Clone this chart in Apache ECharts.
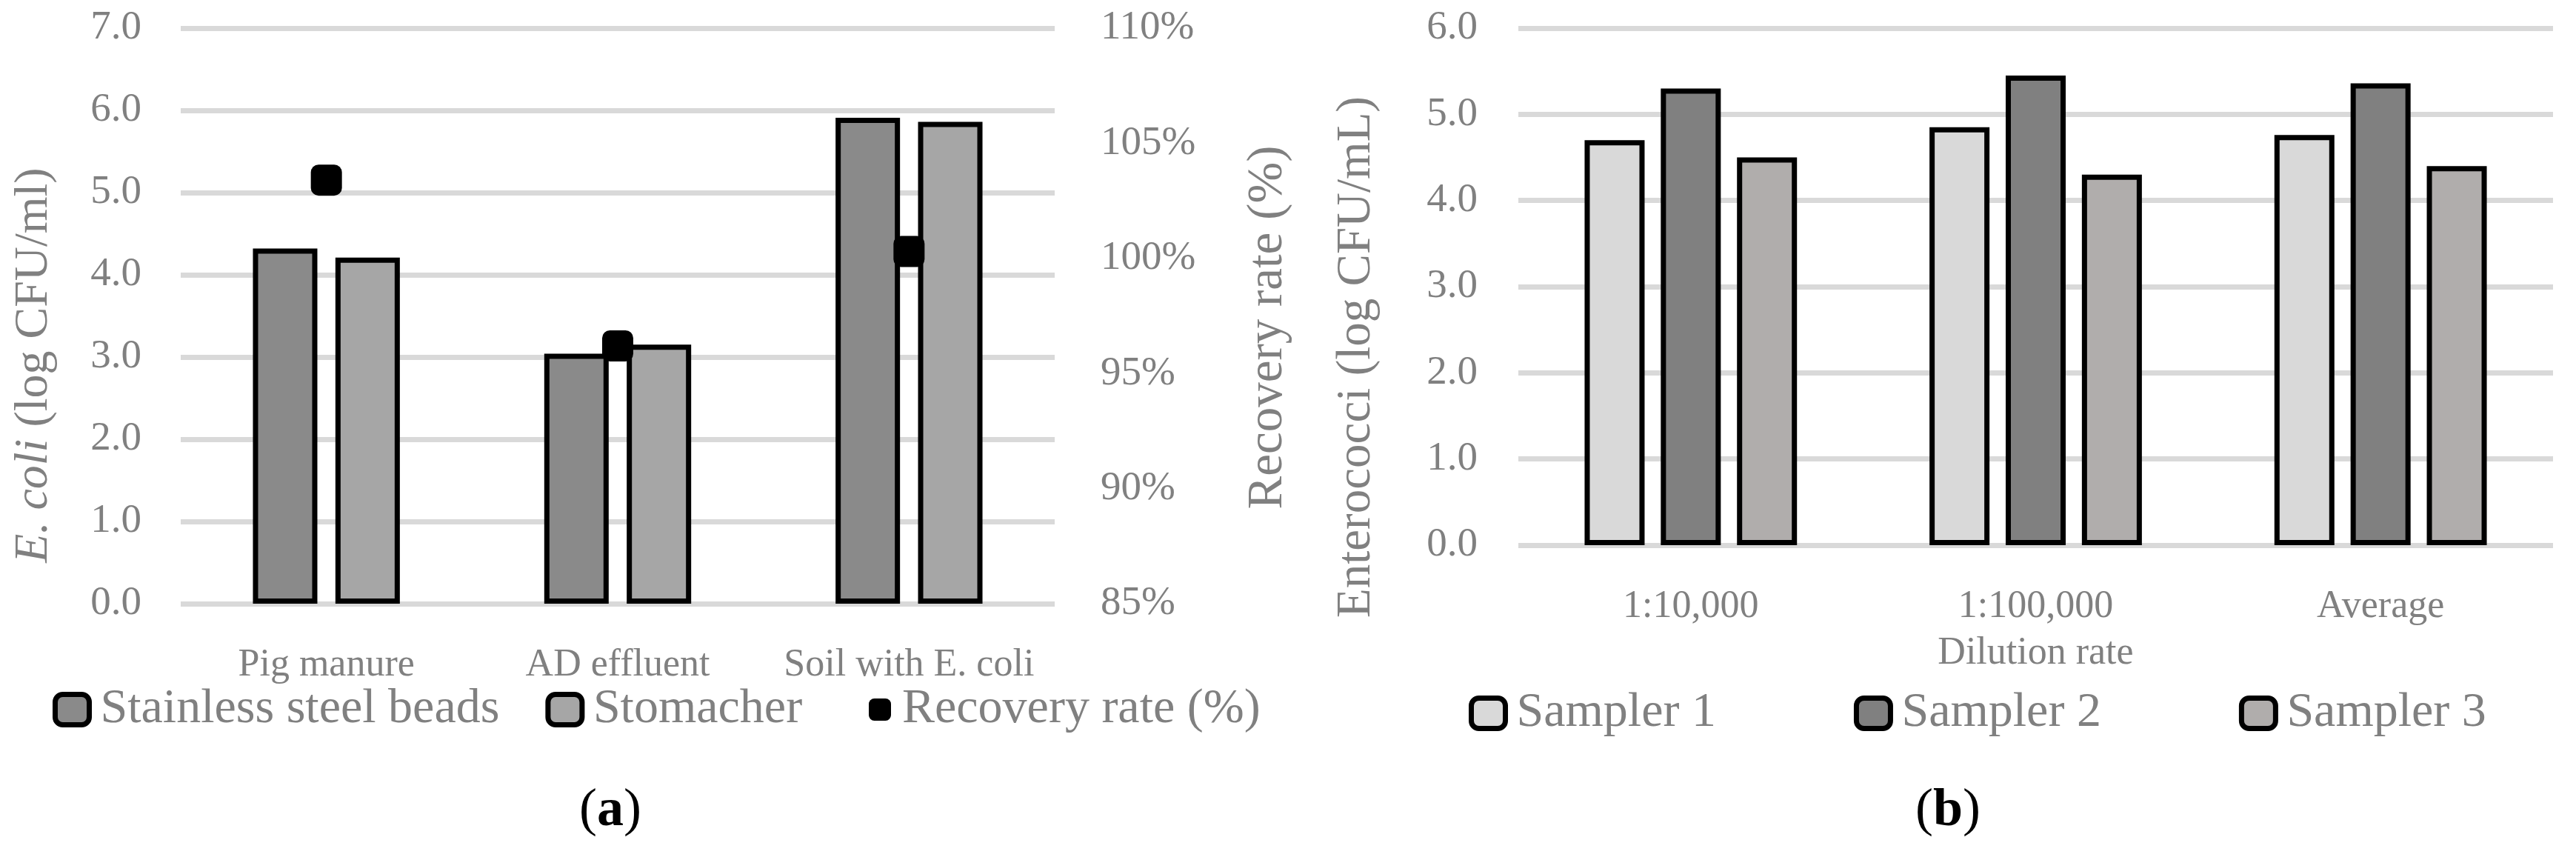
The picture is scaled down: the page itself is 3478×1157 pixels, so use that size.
<!DOCTYPE html>
<html>
<head>
<meta charset="utf-8">
<title>E. coli and Enterococci recovery</title>
<script src="https://cdn.jsdelivr.net/npm/echarts@6/dist/echarts.min.js"></script>
<style>
  html, body { margin: 0; padding: 0; background: #fff; }
  #chart { width: 3478px; height: 1157px; }
</style>
</head>
<body>
<div id="chart"></div>
<script>
// (a) E. coli extraction methods
var sampleTypes = ['Pig manure', 'AD effluent', 'Soil with E. coli'];
var beadsValues = [4.32, 3.04, 5.91];
var stomacherValues = [4.21, 3.15, 5.86];
var recoveryRate = [103.4, 96.2, 100.3];

// (b) Enterococci per sampler
var dilutions = ['1:10,000', '1:100,000', 'Average'];
var sampler1 = [4.70, 4.85, 4.76];
var sampler2 = [5.30, 5.45, 5.36];
var sampler3 = [4.50, 4.30, 4.40];

var FONT = '"Liberation Serif", "DejaVu Serif", serif';
var GREY = '#808080';
var GRID_LINE = '#d9d9d9';

var myChart = echarts.init(document.getElementById('chart'));

function valueAxis(gridIndex, max, margin) {
    return {
        type: 'value',
        gridIndex: gridIndex,
        min: 0,
        max: max,
        interval: 1,
        axisLine: { show: false },
        axisTick: { show: false },
        axisLabel: {
            color: GREY, fontFamily: FONT, fontSize: 55, margin: margin,
            formatter: function (v) { return v.toFixed(1); }
        },
        splitLine: { lineStyle: { color: GRID_LINE, width: 7 } }
    };
}

function catAxis(gridIndex, data) {
    return {
        type: 'category',
        gridIndex: gridIndex,
        data: data,
        axisLine: { show: false },
        axisTick: { show: false },
        axisLabel: {
            color: GREY, fontFamily: FONT, fontSize: 52, margin: 57,
            interval: 0, hideOverlap: false
        }
    };
}

function barStyle(color) {
    return { color: color, borderColor: '#000', borderWidth: 7 };
}

var legendText = { color: GREY, fontFamily: FONT, fontSize: 66, padding: [0, 0, 0, 10] };

var option = {
    animation: false,
    backgroundColor: '#fff',
    grid: [
        { left: 244, top: 38, width: 1180, height: 777 },
        { left: 2050, top: 38, width: 1397, height: 698 }
    ],
    xAxis: [
        catAxis(0, sampleTypes),
        (function () {
            var ax = catAxis(1, dilutions);
            ax.name = 'Dilution rate';
            ax.nameLocation = 'middle';
            ax.nameGap = 120;
            ax.nameTextStyle = { color: GREY, fontFamily: FONT, fontSize: 52 };
            return ax;
        })()
    ],
    yAxis: [
        valueAxis(0, 7, 53),
        {
            type: 'value',
            gridIndex: 0,
            position: 'right',
            min: 85,
            max: 110,
            interval: 5,
            axisLine: { show: false },
            axisTick: { show: false },
            splitLine: { show: false },
            axisLabel: { color: GREY, fontFamily: FONT, fontSize: 55, margin: 62, formatter: '{value}%' }
        },
        valueAxis(1, 6, 55)
    ],
    legend: [
        {
            data: ['Stainless steel beads', 'Stomacher'],
            left: 66, top: 920,
            itemWidth: 46, itemHeight: 41, itemGap: 62,
            itemStyle: { borderWidth: 7 },
            textStyle: legendText
        },
        {
            data: ['Recovery rate (%)'],
            left: 1168, top: 920,
            itemWidth: 30, itemHeight: 30,
            itemStyle: { opacity: 1 },
            textStyle: legendText
        },
        {
            data: ['Sampler 1', 'Sampler 2', 'Sampler 3'],
            left: 1978, top: 925,
            itemWidth: 46, itemHeight: 41, itemGap: 186,
            itemStyle: { borderWidth: 7 },
            textStyle: legendText
        }
    ],
    graphic: [
        {
            type: 'text', x: 46, y: 493, rotation: Math.PI / 2,
            style: {
                text: '{i|E. coli} (log CFU/ml)',
                fill: GREY, font: '64px ' + FONT, align: 'center', verticalAlign: 'middle',
                rich: { i: { fontStyle: 'italic', fontSize: 64, fontFamily: FONT, fill: GREY } }
            }
        },
        {
            type: 'text', x: 1712, y: 442, rotation: Math.PI / 2,
            style: {
                text: 'Recovery rate (%)',
                fill: GREY, font: '67px ' + FONT, align: 'center', verticalAlign: 'middle'
            }
        },
        {
            type: 'text', x: 1832, y: 482, rotation: Math.PI / 2,
            style: {
                text: 'Enterococci (log CFU/mL)',
                fill: GREY, font: '65px ' + FONT, align: 'center', verticalAlign: 'middle'
            }
        },
        {
            type: 'text', x: 824, y: 1095,
            style: {
                text: '({b|a})', fill: '#000', font: '72px ' + FONT, align: 'center', verticalAlign: 'middle',
                rich: { b: { fontWeight: 'bold', fontSize: 72, fontFamily: FONT, fill: '#000' } }
            }
        },
        {
            type: 'text', x: 2630, y: 1095,
            style: {
                text: '({b|b})', fill: '#000', font: '72px ' + FONT, align: 'center', verticalAlign: 'middle',
                rich: { b: { fontWeight: 'bold', fontSize: 72, fontFamily: FONT, fill: '#000' } }
            }
        }
    ],
    series: [
        {
            name: 'Stainless steel beads', type: 'bar', xAxisIndex: 0, yAxisIndex: 0,
            data: beadsValues, barWidth: 87, barGap: '28%',
            itemStyle: barStyle('#8a8a8a')
        },
        {
            name: 'Stomacher', type: 'bar', xAxisIndex: 0, yAxisIndex: 0,
            data: stomacherValues, barWidth: 87, barGap: '28%',
            itemStyle: barStyle('#a6a6a6')
        },
        {
            name: 'Recovery rate (%)', type: 'scatter', xAxisIndex: 0, yAxisIndex: 1,
            data: recoveryRate, symbol: 'roundRect', symbolSize: 42, z: 5,
            itemStyle: { color: '#000', opacity: 1 }
        },
        {
            name: 'Sampler 1', type: 'bar', xAxisIndex: 1, yAxisIndex: 2,
            data: sampler1, barWidth: 81, barGap: '27%',
            itemStyle: barStyle('#d9d9d9')
        },
        {
            name: 'Sampler 2', type: 'bar', xAxisIndex: 1, yAxisIndex: 2,
            data: sampler2, barWidth: 81, barGap: '27%',
            itemStyle: barStyle('#808080')
        },
        {
            name: 'Sampler 3', type: 'bar', xAxisIndex: 1, yAxisIndex: 2,
            data: sampler3, barWidth: 81, barGap: '27%',
            itemStyle: barStyle('#b0adac')
        }
    ]
};

myChart.setOption(option);
</script>
</body>
</html>
